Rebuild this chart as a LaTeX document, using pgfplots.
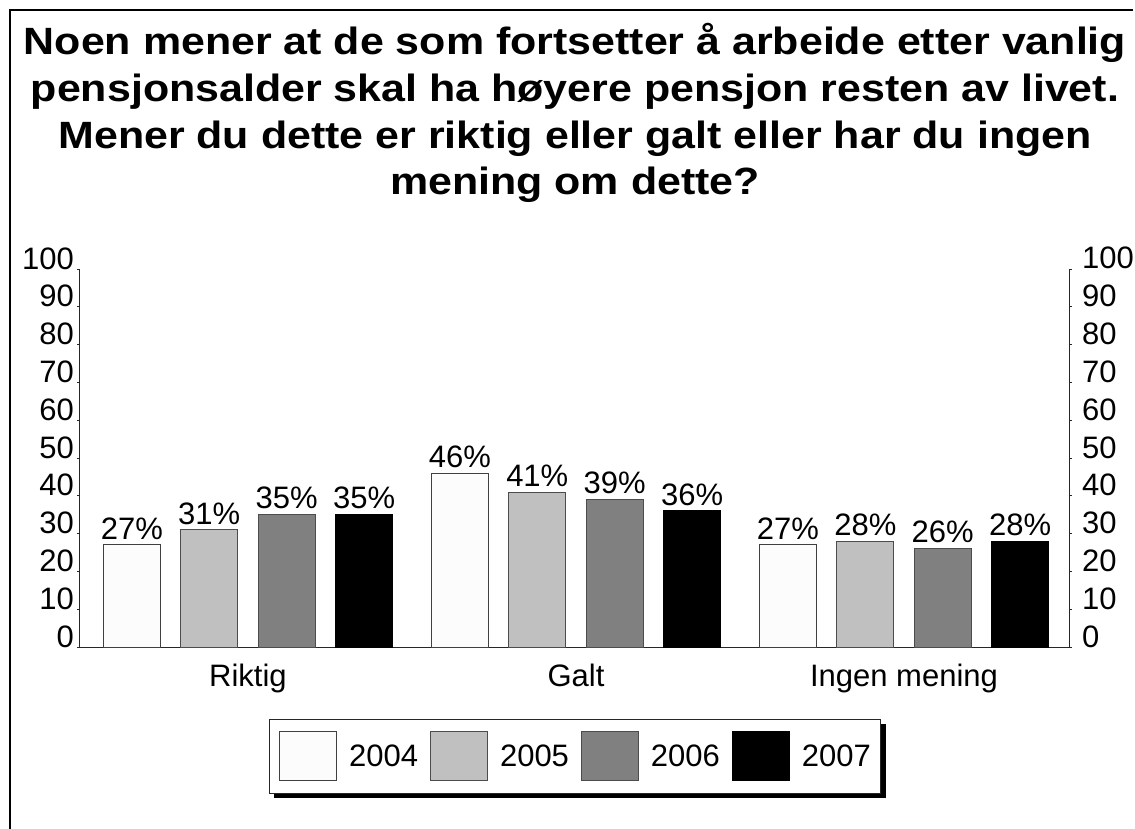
\documentclass[border=0pt]{standalone}
\usepackage{fontspec}
\setmainfont{Liberation Sans}
\newfontfamily\titlefont[FakeStretch=1.13]{Liberation Sans}
\usepackage{pgfplots}
\pgfplotsset{compat=1.18}
\usetikzlibrary{shadows}
\makeatletter
\tikzset{no preaction/.code={\let\tikz@preactions\pgfutil@empty}}
\makeatother
\definecolor{c04}{HTML}{FCFCFC}
\definecolor{c05}{HTML}{C0C0C0}
\definecolor{c06}{HTML}{808080}
\definecolor{c07}{HTML}{000000}
\newcommand{\lab}{\fontsize{31}{37}\selectfont}
\begin{document}
\begin{tikzpicture}
\path[use as bounding box] (0pt,0pt) rectangle (1135pt,-829pt);
\draw[line width=1.5pt] (10pt,-829pt) -- (10pt,-10pt) -- (1133pt,-10pt);
\begin{scope}[every node/.style={font=\titlefont\bfseries\fontsize{38}{46}\selectfont, anchor=base, inner sep=0pt}]
\node at (575pt,-55pt) {Noen mener at de som fortsetter å arbeide etter vanlig};
\node at (575pt,-101.7pt) {pensjonsalder skal ha høyere pensjon resten av livet.};
\node at (575pt,-148.3pt) {Mener du dette er riktig eller galt eller har du ingen};
\node at (575pt,-195pt) {mening om dette?};
\end{scope}
\begin{axis}[
  at={(80pt,-647pt)}, anchor=south west, scale only axis,
  width=989pt, height=378pt,
  xmin=-0.512, xmax=2.503, ymin=0, ymax=100,
  axis x line*=bottom, axis y line*=left,
  axis line style={line width=1pt, black!85},
  ytick={0,10,...,100}, xtick={0,1,2},
  xticklabels={Riktig,Galt,Ingen mening},
  tick align=outside, major tick length=3pt,
  tick style={line width=1pt, black!85},
  xtick style={draw=none},
  /pgf/number format/assume math mode=true,
  tick label style={font=\lab},
  yticklabel style={anchor=base east, inner sep=0pt, xshift=-3pt},
  xticklabel style={anchor=north, inner sep=0pt, yshift=-14pt},
  ybar, bar width=0.174,
  nodes near coords={\pgfmathprintnumber{\pgfplotspointmeta}\%},
  every node near coord/.append style={font=\lab, inner sep=0pt, yshift=5pt, text=black},
  legend columns=4,
  legend image code/.code={\draw[no preaction, #1, line width=1pt] (0pt,-24.5pt) rectangle (57pt,24.5pt);},
  legend style={at={(0.5005,-0.2884)}, anchor=center, draw=black!85, line width=1pt,
    font=\lab, fill=white, inner xsep=10pt, inner ysep=12pt,
    drop shadow={shadow xshift=5pt, shadow yshift=-5pt, fill=black, opacity=1},
    /tikz/every odd column/.append style={column sep=12pt},
    /tikz/every even column/.append style={column sep=12pt},
    nodes={inner sep=0pt}},
]
\addplot[bar shift=-0.354, fill=c04, draw=black!75, line width=1pt] coordinates {(0,27) (1,46) (2,27)};
\addplot[bar shift=-0.118, fill=c05, draw=black!70, line width=1pt] coordinates {(0,31) (1,41) (2,28)};
\addplot[bar shift=0.118, fill=c06, draw=black!70, line width=1pt] coordinates {(0,35) (1,39) (2,26)};
\addplot[bar shift=0.354, fill=c07, draw=black, line width=1pt] coordinates {(0,35) (1,36) (2,28)};
\legend{2004,2005,2006,2007}
\end{axis}
\begin{axis}[
  at={(80pt,-647pt)}, anchor=south west, scale only axis,
  width=989pt, height=378pt,
  xmin=-0.512, xmax=2.503, ymin=0, ymax=100,
  axis x line=none, axis y line*=right,
  axis line style={line width=1pt, black!85},
  ytick={0,10,...,100},
  tick align=outside, major tick length=3pt,
  tick style={line width=1pt, black!85},
  /pgf/number format/assume math mode=true,
  tick label style={font=\lab},
  yticklabel style={anchor=base west, inner sep=0pt, xshift=10pt},
]
\addplot[draw=none] coordinates {(0,0)};
\end{axis}
\end{tikzpicture}
\end{document}
